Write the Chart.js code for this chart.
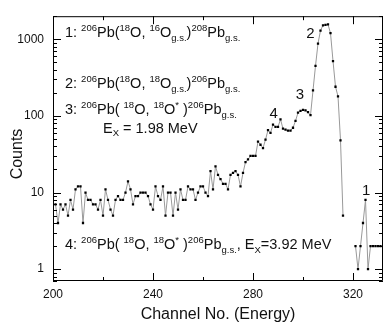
<!DOCTYPE html>
<html lang="en">
<head>
<meta charset="UTF-8">
<title>Counts vs channel</title>
<script src="https://cdn.jsdelivr.net/npm/chart.js@4.4.0/dist/chart.umd.min.js"></script>
<style>
  html, body { margin: 0; padding: 0; background: #fff; overflow: hidden; }
</style>
</head>
<body>
<canvas id="spec" width="387" height="325"></canvas>
<script>
// channel numbers of the spectrum, first one read at 201
const firstChannel = 201;
// counts per channel (null = empty channel, not shown on log axis)
const counts = [
  7, 4, 7, 6, 7, 5, 8, 6, 11, 12,        // 201-210
  12, 4, 10, 8, 8, 7, 7, 6, 8, 5,        // 211-220
  11, 8, 6, 5, 8, 9, 8, 8, 10, 14,       // 221-230
  11, 7, 9, 9, 10, 10, 10, 9, 7, 6,      // 231-240
  12, 9, 8, 12, 5, 10, 10, 5, 10, 6,     // 241-250
  11, 8, 8, 12, 11, 11, 8, 10, 12, 12,   // 251-260
  10, 9, 19, 11, 22, 17, 15, 13, 13, 11, // 261-270
  17, 18, 19, 17, 12, 18, 25, 27, 30, 30,// 271-280
  30, 46, 42, 38, 49, 65, 60, 77, 72, 72,// 281-290
  90, 68, 66, 64, 64, 70, 86, 110, 116, 120, // 291-300
  118, 112, 102, 215, 450, 880, 1300, 1520, 1540, 1560, // 301-310
  1200, 520, 240, 180, 48, 5, null, null, null, null,   // 311-320
  2, 1, 2, 4, 8, 1, 2, 2, 2, 2, 2        // 321-331
];
const channels = counts.map((c, i) => firstChannel + i);
const xLabels = [200, 240, 280, 320];
const yLabels = [1, 10, 100, 1000];

const FONT = '"Liberation Sans", Arial, sans-serif';

// draws text made of normal / superscript / subscript pieces
function richText(ctx, x, y, parts) {
  for (const [txt, kind] of parts) {
    let size = 14.5, dy = 0;
    if (kind === 'sup') { size = 9.5; dy = -6.5; }
    if (kind === 'sub') { size = 9.5; dy = 3.5; }
    ctx.font = size + 'px ' + FONT;
    ctx.fillText(txt, x, y + dy);
    x += ctx.measureText(txt).width;
  }
}

const decorations = {
  id: 'decorations',
  afterDatasetsDraw(chart) {
    const { ctx, chartArea: a, scales: { x, y } } = chart;
    ctx.save();
    ctx.strokeStyle = '#000';
    ctx.lineWidth = 1;
    ctx.beginPath();
    ctx.rect(a.left + 0.5, a.top + 0.5, a.right - a.left - 1, a.bottom - a.top - 1);
    ctx.stroke();

    // inward ticks, bottom and top
    ctx.beginPath();
    for (let v = 200; v <= x.max; v += 20) {
      const px = Math.round(x.getPixelForValue(v)) + 0.5;
      const len = v % 40 === 0 ? 8 : 4;
      ctx.moveTo(px, a.bottom); ctx.lineTo(px, a.bottom - len);
      ctx.moveTo(px, a.top); ctx.lineTo(px, a.top + len);
    }
    // inward ticks, left and right (log minor ticks)
    for (let e = -1; e <= 3; e++) {
      for (let m = 1; m <= 9; m++) {
        const v = m * Math.pow(10, e);
        if (v < y.min || v > y.max) continue;
        const py = Math.round(y.getPixelForValue(v)) + 0.5;
        const len = m === 1 ? 8 : 4;
        ctx.moveTo(a.left, py); ctx.lineTo(a.left + len, py);
        ctx.moveTo(a.right, py); ctx.lineTo(a.right - len, py);
      }
    }
    ctx.stroke();

    ctx.fillStyle = '#111';
    ctx.textAlign = 'left';
    ctx.textBaseline = 'alphabetic';
    const L = a.left + 12;
    richText(ctx, L, 37, [['1: ', 'n'], ['206', 'sup'], ['Pb(', 'n'], ['18', 'sup'], ['O, ', 'n'], ['16', 'sup'], ['O', 'n'], ['g.s.', 'sub'], [')', 'n'], ['208', 'sup'], ['Pb', 'n'], ['g.s.', 'sub']]);
    richText(ctx, L, 88, [['2: ', 'n'], ['206', 'sup'], ['Pb(', 'n'], ['18', 'sup'], ['O, ', 'n'], ['18', 'sup'], ['O', 'n'], ['g.s.', 'sub'], [')', 'n'], ['206', 'sup'], ['Pb', 'n'], ['g.s.', 'sub']]);
    richText(ctx, L, 114, [['3: ', 'n'], ['206', 'sup'], ['Pb( ', 'n'], ['18', 'sup'], ['O, ', 'n'], ['18', 'sup'], ['O', 'n'], ['*', 'sup'], [' )', 'n'], ['206', 'sup'], ['Pb', 'n'], ['g.s.', 'sub']]);
    richText(ctx, a.left + 50, 132.5, [['E', 'n'], ['X', 'sub'], [' = 1.98 MeV', 'n']]);
    richText(ctx, L, 249, [['4: ', 'n'], ['206', 'sup'], ['Pb( ', 'n'], ['18', 'sup'], ['O, ', 'n'], ['18', 'sup'], ['O', 'n'], ['*', 'sup'], [' )', 'n'], ['206', 'sup'], ['Pb', 'n'], ['g.s.', 'sub'], [', E', 'n'], ['X', 'sub'], ['=3.92 MeV', 'n']]);

    // peak numbers, placed at (channel, counts) of the text baseline
    ctx.font = '15px ' + FONT;
    ctx.textAlign = 'center';
    const peaks = [['1', 325.3, 9.4], ['2', 303, 1050], ['3', 298.8, 166], ['4', 288.3, 95]];
    for (const [t, ch, c] of peaks) {
      ctx.fillText(t, x.getPixelForValue(ch), y.getPixelForValue(c));
    }

    // axis titles
    ctx.font = '16px ' + FONT;
    ctx.fillText('Channel No. (Energy)', (a.left + a.right) / 2, 318.5);
    ctx.translate(22, 154);
    ctx.rotate(-Math.PI / 2);
    ctx.fillText('Counts', 0, 0);
    ctx.restore();
  }
};

new Chart('spec', {
  type: 'line',
  data: {
    datasets: [{
      data: channels.map((c, i) => ({ x: c, y: counts[i] })),
      borderColor: '#999',
      borderWidth: 1,
      pointStyle: 'rect',
      pointRadius: 1.6,
      pointBackgroundColor: '#000',
      pointBorderWidth: 0,
      spanGaps: false,
      tension: 0
    }]
  },
  options: {
    responsive: false,
    animation: false,
    devicePixelRatio: 1,
    layout: { padding: { top: 7, right: 0, left: 0, bottom: 0 } },
    plugins: { legend: { display: false }, tooltip: { enabled: false } },
    scales: {
      x: {
        type: 'linear',
        min: 200,
        max: 332,
        grid: { display: false, drawTicks: false },
        border: { display: false },
        ticks: {
          stepSize: 40,
          includeBounds: false,
          autoSkip: false,
          maxRotation: 0,
          padding: 6,
          color: '#111',
          font: { family: FONT, size: 12 },
          callback: v => xLabels.includes(v) ? String(v) : ''
        },
        afterFit: s => { s.height = 44; }
      },
      y: {
        type: 'logarithmic',
        min: 0.7,
        max: 2000,
        grid: { display: false, drawTicks: false },
        border: { display: false },
        ticks: {
          autoSkip: false,
          padding: 9,
          color: '#111',
          font: { family: FONT, size: 12 },
          callback: v => {
            const r = Math.round(v);
            return yLabels.includes(r) && Math.abs(v - r) < 1e-6 ? String(r) : '';
          }
        },
        afterFit: s => { s.width = 53; }
      }
    }
  },
  plugins: [decorations]
});
</script>
</body>
</html>
